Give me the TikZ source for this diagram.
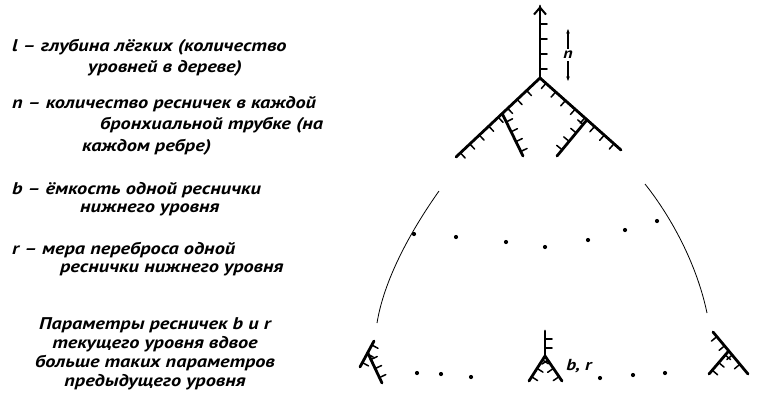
\documentclass[tikz,border=0pt]{standalone}
\usepackage{fontspec}
\setmainfont{PT Sans}[FakeStretch=1.2]
\usetikzlibrary{calc,arrows.meta,decorations.markings}
\tikzset{
  tube/.style={line width=2.8bp, line cap=round},
  cilia/.style={tube, postaction={decorate},
    decoration={markings, mark=between positions #1 with {\draw[line width=1.5bp] (0,0) -- (0,-7bp);}}},
  dot/.style={circle, fill, inner sep=0pt, minimum size=4.2bp},
  rim/.style={line width=0.8bp},
  lab/.style={font=\bfseries\itshape\fontsize{17}{19}\selectfont, inner sep=0pt, anchor=west}
}
\begin{document}
\begin{tikzpicture}[x=1bp,y=1bp]
  \useasboundingbox (0,0) rectangle (757,-394);

  % legend
  \node[lab] (ldef)  at (12,-47)  {l – глубина лёгких (количество};
  \node[lab] (ldefb) at (88,-68)  {уровней в дереве)};
  \node[lab] (ndef)  at (12,-104) {n – количество ресничек в каждой};
  \node[lab] (ndefb) at (100,-125) {бронхиальной трубке (на};
  \node[lab] (ndefc) at (82,-147) {каждом ребре)};
  \node[lab] (bdef)  at (12,-190) {b – ёмкость одной реснички};
  \node[lab] (bdefb) at (80,-210) {нижнего уровня};
  \node[lab] (rdef)  at (12,-250) {r – мера переброса одной};
  \node[lab] (rdefb) at (60,-270) {реснички нижнего уровня};
  \node[lab, anchor=center, align=center] (rule) at (155,-354)
    {Параметры ресничек b и r\\текущего уровня вдвое\\больше таких параметров\\предыдущего уровня};

  % upper tree
  \coordinate (J)  at (540,-78);
  \coordinate (T)  at (540,-6);
  \coordinate (LL) at (456,-157);
  \coordinate (RL) at (621,-150);
  \coordinate (LJ) at ($(LL)!0.55!(J)$);
  \coordinate (RJ) at ($(J)!0.58!(RL)$);
  \coordinate (LS) at (523,-156);
  \coordinate (RS) at (557,-156);

  \draw[cilia={9bp and 60bp step 15bp}] (J) -- (T);
  \draw[tube, -{Straight Barb[length=7bp,width=12bp,line width=2bp]}] (J) -- (T);
  \draw[cilia={6bp and -6bp step 13bp}] (LL) -- (J);
  \draw[cilia={8bp and -4bp step 13bp}] (J) -- (RL);
  \draw[cilia={5bp and -6bp step 11bp}] (LS) -- (LJ);
  \draw[cilia={6bp and -4bp step 11bp}] (RJ) -- (RS);

  % n marker
  \node[lab, anchor=center, font=\bfseries\itshape\fontsize{15}{18}\selectfont] (n) at (568,-55) {n};
  \coordinate (nup) at (568,-29);
  \coordinate (ndn) at (568,-81);
  \draw[line width=1.1bp, -{Stealth[length=4.5bp,width=3.5bp]}] (n.north) ++(0,2) -- (nup);
  \draw[line width=1.1bp, -{Stealth[length=4.5bp,width=3.5bp]}] (n.south) ++(0,-2) -- (ndn);

  % outline of the lung
  \draw[rim] (439,-191) .. controls (410,-232) and (384,-280) .. (377,-323);
  \draw[rim] (645,-184) .. controls (672,-218) and (697,-265) .. (707,-313);

  % middle dots
  \foreach \x/\y [count=\i] in {414/234,456/237,506/242,545/247,588/240,625/230,657/221}
    \node[dot] (m\i) at (\x,-\y) {};

  % lower left tree
  \coordinate (A1) at (360,-367);
  \coordinate (A2) at (374,-341);
  \coordinate (AJ) at ($(A1)!0.55!(A2)$);
  \coordinate (AS) at (382,-383);
  \draw[cilia={5bp and -3bp step 10bp}] (A1) -- (A2);
  \draw[cilia={6bp and -4bp step 10bp}] (AS) -- (AJ);

  % lower middle tree
  \coordinate (M)  at (545,-356);
  \coordinate (MT) at (545,-331);
  \coordinate (ML) at (529,-381);
  \coordinate (MR) at (562,-381);
  \draw[cilia={8bp and 17bp step 9bp}] (M) -- (MT);
  \draw[cilia={5bp and -4bp step 10bp}] (ML) -- (M);
  \draw[cilia={5bp and -4bp step 10bp}] (M) -- (MR);
  \node[lab, anchor=center, font=\bfseries\itshape\fontsize{16}{18}\selectfont] (br) at (579,-366) {b, r};

  % lower right tree
  \coordinate (B1) at (713,-332);
  \coordinate (B2) at (748,-374);
  \coordinate (BJ) at ($(B1)!0.45!(B2)$);
  \coordinate (BS) at (709,-374);
  \draw[cilia={6bp and -4bp step 12bp}] (B1) -- (B2);
  \draw[cilia={5bp and -4bp step 10bp}] (BS) -- (BJ);

  % lower dots
  \foreach \x/\y [count=\i] in {417/373,441/374,471/377,600/378,633/375,665/373}
    \node[dot] (d\i) at (\x,-\y) {};
\end{tikzpicture}
\end{document}
